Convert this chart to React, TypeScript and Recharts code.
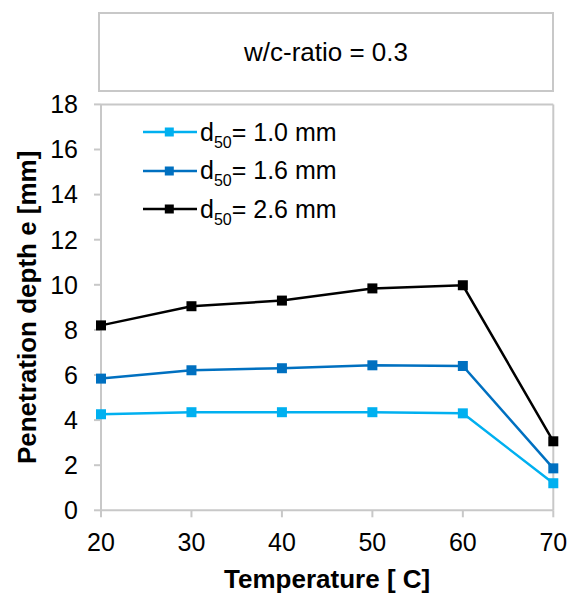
import { LineChart, Line, XAxis, YAxis, ReferenceLine } from 'recharts'

const temperatures = [20, 30, 40, 50, 60, 70]
const depthD10 = [4.26, 4.35, 4.35, 4.35, 4.3, 1.2]
const depthD16 = [5.84, 6.21, 6.3, 6.43, 6.4, 1.86]
const depthD26 = [8.2, 9.05, 9.3, 9.84, 9.98, 3.06]
const xTicks = [20, 30, 40, 50, 60, 70]
const yTicks = [0, 2, 4, 6, 8, 10, 12, 14, 16, 18]

const series = [
    { key: 'd10', size: '1.0', color: '#00b0f0' },
    { key: 'd16', size: '1.6', color: '#0070c0' },
    { key: 'd26', size: '2.6', color: '#000000' },
]

const data = temperatures.map((t, i) => ({
    t,
    d10: depthD10[i],
    d16: depthD16[i],
    d26: depthD26[i],
}))

const GRAY = '#c8c8c8'
const FONT = '"Liberation Sans", Arial, sans-serif'

const squareDot = (color: string) => (props: any) => {
    const { cx, cy, index } = props
    if (cx == null || cy == null) return <g key={index} />
    return <rect key={index} x={cx - 5} y={cy - 5} width={10} height={10} fill={color} />
}

// legend drawn as an overlay so it doesn't eat plot space
const ChartLegend = () => (
    <div style={{ position: 'absolute', left: 143, top: 113, lineHeight: 1 }}>
        {series.map(s => (
            <div key={s.key} style={{ display: 'flex', alignItems: 'center', height: 38.5 }}>
                <svg width={57} height={12} style={{ display: 'block' }}>
                    <line x1={0} y1={6} x2={54} y2={6} stroke={s.color} strokeWidth={2.5} />
                    <rect x={21.8} y={1.5} width={9} height={9} fill={s.color} />
                </svg>
                <span style={{ fontSize: 25, color: '#000', whiteSpace: 'nowrap' }}>
                    d<span style={{ fontSize: 16, position: 'relative', top: 7 }}>50</span>= {s.size} mm
                </span>
            </div>
        ))}
    </div>
)

export default function App() {
    return (
        <div style={{ position: 'absolute', left: 0, top: 0, width: 569, height: 596, fontFamily: FONT, background: '#fff' }}>
            {/* title box */}
            <div
                style={{
                    position: 'absolute', left: 98, top: 12, width: 456, height: 80, boxSizing: 'border-box',
                    border: `2px solid ${GRAY}`, display: 'flex', alignItems: 'center', justifyContent: 'center',
                    fontSize: 26, color: '#000',
                }}
            >
                w/c-ratio = 0.3
            </div>
            <LineChart width={569} height={596} data={data} margin={{ top: 104.4, right: 15.7, left: 0, bottom: 0 }}>
                <XAxis
                    dataKey="t"
                    type="number"
                    domain={[20, 70]}
                    ticks={xTicks}
                    interval={0}
                    height={85.7}
                    tickSize={7}
                    tickMargin={16}
                    axisLine={{ stroke: GRAY, strokeWidth: 2 }}
                    tickLine={{ stroke: GRAY, strokeWidth: 2 }}
                    tick={{ fill: '#000', fontSize: 25 }}
                    label={{ value: 'Temperature [ C]', position: 'insideBottom', offset: 8, style: { fontSize: 26, fontWeight: 'bold', fill: '#000' } }}
                />
                <YAxis
                    type="number"
                    domain={[0, 18]}
                    ticks={yTicks}
                    interval={0}
                    width={101}
                    tickSize={7}
                    tickMargin={16}
                    axisLine={{ stroke: GRAY, strokeWidth: 2 }}
                    tickLine={{ stroke: GRAY, strokeWidth: 2 }}
                    tick={{ fill: '#000', fontSize: 25 }}
                    label={{ value: 'Penetration depth e [mm]', angle: -90, position: 'insideLeft', offset: 27, style: { fontSize: 26, fontWeight: 'bold', fill: '#000', textAnchor: 'middle' } }}
                />
                <ReferenceLine y={18} stroke={GRAY} strokeWidth={2} />
                <ReferenceLine x={70} stroke={GRAY} strokeWidth={2} />
                {series.map(s => (
                    <Line
                        key={s.key}
                        dataKey={s.key}
                        stroke={s.color}
                        strokeWidth={2.5}
                        dot={squareDot(s.color)}
                        activeDot={false}
                        isAnimationActive={false}
                    />
                ))}
            </LineChart>
            <ChartLegend />
        </div>
    )
}
